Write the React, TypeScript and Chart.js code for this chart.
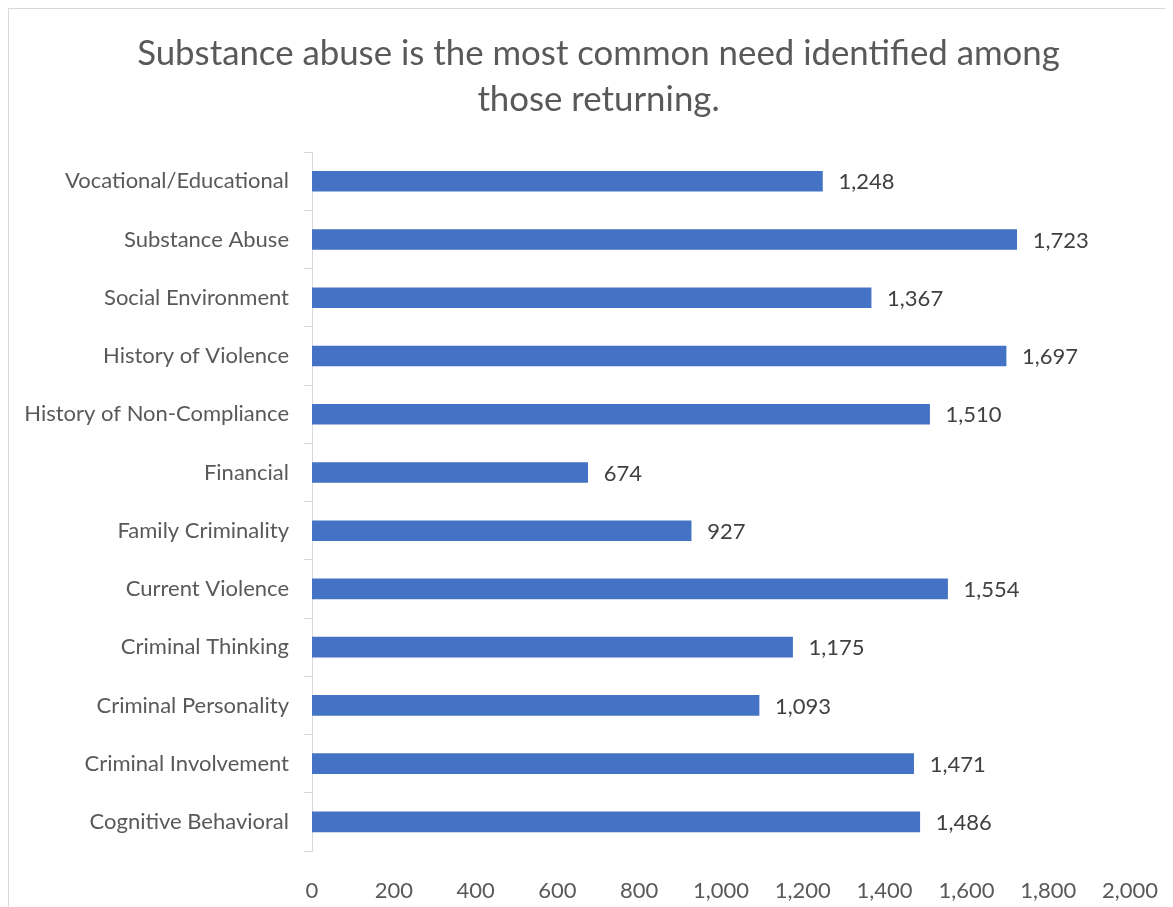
import React, { useEffect, useRef } from "react";
import { Chart, registerables } from "chart.js";

Chart.register(...registerables);

const categories = [
  "Vocational/Educational",
  "Substance Abuse",
  "Social Environment",
  "History of Violence",
  "History of Non-Compliance",
  "Financial",
  "Family Criminality",
  "Current Violence",
  "Criminal Thinking",
  "Criminal Personality",
  "Criminal Involvement",
  "Cognitive Behavioral",
];

const counts = [1248, 1723, 1367, 1697, 1510, 674, 927, 1554, 1175, 1093, 1471, 1486];

const titleLines = [
  "Substance abuse is the most common need identified among",
  "those returning.",
];

const xMin = 0;
const xMax = 2000;
const xStep = 200;

const FONT = "Lato, 'Open Sans', sans-serif";
const fmt = (v: number) => v.toLocaleString("en-US");

const dataLabelPlugin = {
  id: "dataLabels",
  afterLayout(chart: any) {
    // let the category labels extend into the left padding without being clipped
    if (chart.scales.y) chart.scales.y.left = 0;
  },
  afterDatasetsDraw(chart: any) {
    const ctx = chart.ctx;
    const meta = chart.getDatasetMeta(0);
    ctx.save();
    ctx.font = `22px ${FONT}`;
    ctx.fillStyle = "#404040";
    ctx.textAlign = "left";
    ctx.textBaseline = "middle";
    meta.data.forEach((bar: any, i: number) => {
      ctx.fillText(fmt(counts[i]), bar.x + 16, bar.y + 1);
    });
    ctx.restore();
  },
};

export default function App() {
  const ref = useRef<HTMLCanvasElement>(null);

  useEffect(() => {
    if (!ref.current) return;
    const chart = new Chart(ref.current, {
      type: "bar",
      data: {
        labels: categories,
        datasets: [
          {
            data: counts,
            backgroundColor: "#4472C4",
            barThickness: 20,
          },
        ],
      },
      options: {
        indexAxis: "y",
        responsive: false,
        animation: false,
        layout: { padding: { left: 58, right: 57, top: 0, bottom: 0 } },
        plugins: {
          legend: { display: false },
          tooltip: { enabled: false },
          title: {
            display: true,
            text: titleLines,
            color: "#595959",
            font: { family: FONT, size: 34.8, weight: "normal", lineHeight: 1.31 },
            padding: { top: 22, bottom: 30 },
          },
        },
        scales: {
          x: {
            min: xMin,
            max: xMax,
            grid: { display: false },
            border: { display: false },
            ticks: {
              stepSize: xStep,
              color: "#595959",
              font: { family: FONT, size: 22 },
              padding: 19,
              maxRotation: 0,
              callback: (v: any) => fmt(Number(v)),
            },
            afterFit: (s: any) => {
              s.height = 56;
            },
          },
          y: {
            grid: {
              display: true,
              drawOnChartArea: false,
              drawTicks: true,
              tickLength: 8,
              color: "#d9d9d9",
              lineWidth: 1,
            },
            border: { display: true, color: "#d9d9d9", width: 1 },
            ticks: {
              color: "#595959",
              font: { family: FONT, size: 22 },
              padding: 15,
              autoSkip: false,
            },
            afterFit: (s: any) => {
              s.width = 245;
            },
          },
        },
      },
      plugins: [dataLabelPlugin],
    });
    return () => chart.destroy();
  }, []);

  return (
    <div style={{ width: 1165, height: 899, overflow: "hidden", position: "relative" }}>
      <div
        style={{
          position: "absolute",
          left: 0,
          top: 0,
          width: 1250,
          height: 950,
          borderLeft: "1px solid #d9d9d9",
          borderTop: "1px solid #d9d9d9",
          background: "#fff",
        }}
      >
        <canvas
          ref={ref}
          width={1178}
          height={898}
          style={{ display: "block", width: 1178, height: 898 }}
        />
      </div>
    </div>
  );
}
